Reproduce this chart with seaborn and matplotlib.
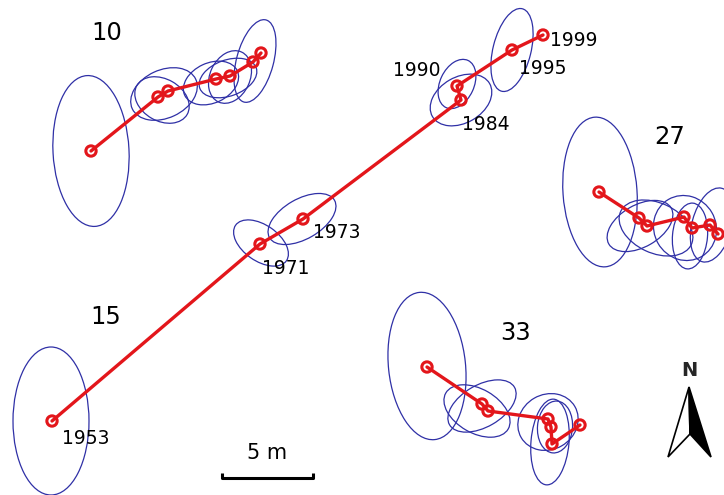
import numpy as np
import pandas as pd
import matplotlib
matplotlib.use("Agg")
import matplotlib.pyplot as plt
from matplotlib.patches import Ellipse, Polygon
import seaborn as sns

# ---- data (map coordinates in pixel-like units, y downward) ----
p10_x = [91, 158, 168, 216, 230, 253, 261]
p10_y = [151, 97, 91, 79, 76, 62, 53]
p10_ell_cx = [91, 164, 162, 211, 228, 230, 255]
p10_ell_cy = [151, 94, 100, 83, 78, 77, 61]
p10_ell_w = [76, 70, 58, 58, 60, 40, 37]
p10_ell_h = [151, 48, 42, 40, 36, 55, 85]
p10_ell_a = [-3, -25, 30, -25, -20, 25, 15]

p15_x = [52, 260, 303, 461, 457, 512, 543]
p15_y = [421, 244, 219, 100, 86, 50, 35]
p15_years = ["1953", "1971", "1973", "1984", "1990", "1995", "1999"]
p15_ell_cx = [51, 261, 302, 461, 457, 512]
p15_ell_cy = [421, 243, 219, 100, 84, 50]
p15_ell_w = [76, 62, 75, 66, 34, 38]
p15_ell_h = [148, 36, 40, 46, 52, 85]
p15_ell_a = [0, 35, -30, -30, 25, 14]

p27_x = [599, 639, 647, 684, 692, 710, 718]
p27_y = [192, 218, 226, 217, 228, 225, 234]
p27_ell_cx = [600, 640, 656, 685, 690, 712]
p27_ell_cy = [192, 226, 228, 228, 236, 225]
p27_ell_w = [74, 72, 78, 62, 35, 40]
p27_ell_h = [150, 42, 50, 66, 66, 76]
p27_ell_a = [-4, -30, 25, -30, 5, 15]

p33_x = [427, 482, 488, 548, 551, 552, 580]
p33_y = [367, 404, 411, 419, 427, 444, 425]
p33_ell_cx = [427, 482, 477, 548, 555, 550]
p33_ell_cy = [366, 406, 411, 422, 427, 442]
p33_ell_w = [77, 75, 72, 62, 35, 38]
p33_ell_h = [148, 42, 44, 55, 52, 86]
p33_ell_a = [-6, -30, 30, -30, 5, 5]

point_ids = ["10", "15", "27", "33"]
id_label_x = [107, 106, 670, 516]
id_label_y = [33, 317, 137, 333]
year_label_x = [86, 286, 337, 486, 417, 543, 574]
year_label_y = [438, 269, 233, 125, 70, 68, 41]

scale_bar_m = 5
scale_px_per_m = 18.1
scale_bar_x0, scale_bar_y = 222, 478

# ---- figure ----
sns.set_theme(style="white")
fig = plt.figure(figsize=(7.24, 4.95), dpi=100)
ax = fig.add_axes([0, 0, 1, 1])
ax.set_xlim(0, 724)
ax.set_ylim(495, 0)
ax.set_aspect("equal")
ax.axis("off")

ell_color = "#2f30a6"
red = "#e3161b"

def draw_ellipses(cx, cy, w, h, a):
    for x, y, ww, hh, aa in zip(cx, cy, w, h, a):
        ax.add_patch(Ellipse((x, y), ww, hh, angle=aa, fill=False,
                             edgecolor=ell_color, linewidth=0.9, zorder=2))

draw_ellipses(p10_ell_cx, p10_ell_cy, p10_ell_w, p10_ell_h, p10_ell_a)
draw_ellipses(p15_ell_cx, p15_ell_cy, p15_ell_w, p15_ell_h, p15_ell_a)
draw_ellipses(p27_ell_cx, p27_ell_cy, p27_ell_w, p27_ell_h, p27_ell_a)
draw_ellipses(p33_ell_cx, p33_ell_cy, p33_ell_w, p33_ell_h, p33_ell_a)

frames = []
for pid, xs, ys in [("10", p10_x, p10_y), ("15", p15_x, p15_y),
                    ("27", p27_x, p27_y), ("33", p33_x, p33_y)]:
    frames.append(pd.DataFrame({"x": xs, "y": ys, "pt": pid}))
df = pd.concat(frames, ignore_index=True)

sns.lineplot(data=df, x="x", y="y", units="pt", estimator=None, sort=False,
             color=red, linewidth=2.4, ax=ax, zorder=3, legend=False)
sns.scatterplot(data=df, x="x", y="y", marker="o", s=55, facecolors="none",
                edgecolor=red, linewidth=2.2, color=red, ax=ax, zorder=4, legend=False)
ax.set_xlabel("")
ax.set_ylabel("")

for t, x, y in zip(point_ids, id_label_x, id_label_y):
    ax.text(x, y, t, fontsize=17.5, ha="center", va="center", color="black", zorder=5)
for t, x, y in zip(p15_years, year_label_x, year_label_y):
    ax.text(x, y, t, fontsize=13.5, ha="center", va="center", color="black", zorder=5)

# scale bar
x1 = scale_bar_x0 + scale_bar_m * scale_px_per_m
ax.plot([scale_bar_x0, scale_bar_x0, x1, x1],
        [scale_bar_y - 5, scale_bar_y, scale_bar_y, scale_bar_y - 5],
        color="black", linewidth=2.2, solid_capstyle="butt", zorder=5)
ax.text((scale_bar_x0 + x1) / 2, 453, f"{scale_bar_m} m", fontsize=15,
        ha="center", va="center", color="black")

# north arrow
apex, left, right, notch = (689, 387), (668, 457), (711, 457), (690, 434)
ax.add_patch(Polygon([apex, left, notch], closed=True, facecolor="white",
                     edgecolor="black", linewidth=1.2, zorder=5))
ax.add_patch(Polygon([apex, notch, right], closed=True, facecolor="black",
                     edgecolor="black", linewidth=1.2, zorder=5))
ax.text(689, 371, "N", fontsize=14, fontweight="bold", ha="center", va="center")

fig.savefig("out.png", dpi=100)
